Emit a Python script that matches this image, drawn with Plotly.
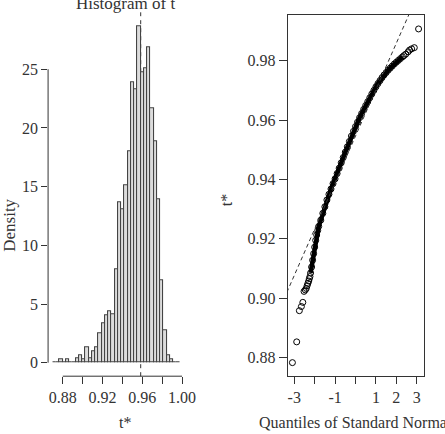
import plotly.graph_objects as go

W, H = 445, 434
FONT = "Liberation Serif"

# ---------------- data ----------------
t0 = 0.9584            # original statistic (dashed line in histogram)
bin_width = 0.003265   # histogram bin width
n_left = 27            # bins left of t0
density = [0, 0, 0.31, 0, 0.31, 0, 0, 0.37, 0.65, 0.31,
           1.28, 0.37, 1.0, 1.28, 2.5, 3.4, 4.0, 4.35, 4.15, 7.95,
           13.7, 13.1, 15.1, 18.0, 23.85, 23.3, 28.7, 24.7, 25.1, 26.9,
           21.7, 18.85, 13.9, 7.05, 2.8, 0.65, 0.31, 0, 0]

hist_xticks = [0.88, 0.90, 0.92, 0.94, 0.96, 0.98, 1.00]
hist_xlabels = ["0.88", "", "0.92", "", "0.96", "", "1.00"]
hist_yticks = [0, 5, 10, 15, 20, 25]

qq_quant = [-3.09, -2.88, -2.75, -2.65, -2.58, -2.52, -2.46, -2.41, -2.37, -2.33,
            -2.29, -2.26, -2.23, -2.20, -2.15, -2.10, -2.05, -2.00, -1.95, -1.90,
            -1.85, -1.80, -1.70, -1.60, -1.50, -1.40, -1.30, -1.20, -1.10, -1.00,
            -0.90, -0.80, -0.70, -0.60, -0.50, -0.40, -0.30, -0.20, -0.10, 0.00,
            0.10, 0.20, 0.30, 0.40, 0.50, 0.60, 0.70, 0.80, 0.90, 1.00,
            1.10, 1.20, 1.30, 1.40, 1.50, 1.60, 1.70, 1.80, 1.90, 2.00,
            2.10, 2.20, 2.30, 2.37, 2.46, 2.58, 2.65, 2.75, 2.88, 3.09]
qq_t = [0.8783, 0.8853, 0.8958, 0.8972, 0.8986, 0.9023, 0.9028, 0.9033, 0.9042, 0.9050,
        0.9058, 0.9066, 0.9073, 0.9085, 0.9105, 0.9128, 0.9150, 0.9172, 0.9195, 0.9213,
        0.9228, 0.9242, 0.9263, 0.9286, 0.9308, 0.9331, 0.9350, 0.9368, 0.9386, 0.9402,
        0.9420, 0.9438, 0.9456, 0.9474, 0.9492, 0.9510, 0.9528, 0.9546, 0.9562, 0.9578,
        0.9593, 0.9608, 0.9622, 0.9636, 0.9649, 0.9662, 0.9675, 0.9688, 0.9700, 0.9712,
        0.9723, 0.9733, 0.9743, 0.9752, 0.9760, 0.9768, 0.9775, 0.9782, 0.9789, 0.9795,
        0.9801, 0.9807, 0.9813, 0.9817, 0.9822, 0.9830, 0.9836, 0.9840, 0.9844, 0.9907]
t_mean = 0.9546
t_sd = 0.01565

qq_xticks = [-3, -2, -1, 0, 1, 2, 3]
qq_xlabels = ["-3", "", "-1", "", "1", "2", "3"]
qq_yticks = [0.88, 0.90, 0.92, 0.94, 0.96, 0.98]
qq_ylabels = ["0.88", "0.90", "0.92", "0.94", "0.96", "0.98"]

# ---------------- derived ----------------
breaks = [t0 + (k - n_left) * bin_width for k in range(len(density) + 1)]
centers = [(breaks[i] + breaks[i + 1]) / 2 for i in range(len(density))]


def px_x(p):
    return p / W


def px_y(p):
    return 1 - p / H


fig = go.Figure()

fig.add_trace(go.Bar(
    x=centers, y=density, width=bin_width,
    marker=dict(color="#dcdcdc", line=dict(color="#444", width=1.1)),
    xaxis="x", yaxis="y", showlegend=False))

band = [(q, t) for q, t in zip(qq_quant, qq_t) if -2.2 <= q <= 2.3]
fig.add_trace(go.Scatter(
    x=[b[0] for b in band], y=[b[1] for b in band], mode="lines",
    line=dict(color="black", width=4.5), xaxis="x2", yaxis="y2", showlegend=False))
fig.add_trace(go.Scatter(
    x=qq_quant, y=qq_t, mode="markers",
    marker=dict(symbol="circle-open", size=6, color="black", line=dict(width=1)),
    xaxis="x2", yaxis="y2", showlegend=False))

qx = [-3.5, 3.5]
fig.add_trace(go.Scatter(
    x=qx, y=[t_mean + t_sd * v for v in qx], mode="lines",
    line=dict(color="#333", width=1, dash="4px,3px"),
    xaxis="x2", yaxis="y2", showlegend=False))

tickfont = dict(family=FONT, size=16, color="#333")


def ann(text, x, y, size=16, angle=0):
    return dict(text=text, xref="paper", yref="paper", x=px_x(x), y=px_y(y),
                xanchor="center", yanchor="middle", showarrow=False,
                textangle=angle, font=dict(family=FONT, size=size, color="#333"))


fig.update_layout(
    width=W, height=H, autosize=False,
    margin=dict(l=0, r=0, t=0, b=0),
    paper_bgcolor="white", plot_bgcolor="white",
    bargap=0,
    xaxis=dict(domain=[px_x(49.3), px_x(189.5)], range=[0.86525, 1.00277],
               tickvals=hist_xticks, ticktext=hist_xlabels, ticks="outside",
               ticklen=7, tickcolor="#333", showline=False, showgrid=False,
               zeroline=False, tickfont=tickfont, anchor="y"),
    yaxis=dict(domain=[px_y(376.2), px_y(12.3)], range=[-1.148, 29.85],
               tickvals=hist_yticks, ticks="outside", ticklen=6, tickcolor="#333",
               showline=False, showgrid=False, zeroline=False, tickfont=tickfont,
               anchor="x"),
    xaxis2=dict(domain=[px_x(295), px_x(434.3)], range=[-3.32, 3.334],
                tickvals=qq_xticks, ticktext=qq_xlabels, ticks="outside",
                ticklen=7, tickcolor="#333", showline=True, linecolor="#333",
                linewidth=1, mirror=True, showgrid=False, zeroline=False,
                tickfont=tickfont, anchor="y2"),
    yaxis2=dict(domain=[px_y(375.7), px_y(15)], range=[0.8739, 0.9954],
                tickvals=qq_yticks, ticktext=qq_ylabels, ticks="outside",
                ticklen=8, tickcolor="#333", showline=True, linecolor="#333",
                linewidth=1, mirror=True, showgrid=False, zeroline=False,
                tickfont=tickfont, anchor="x2"),
    shapes=[
        dict(type="line", xref="x", yref="y domain", x0=t0, x1=t0, y0=0, y1=1,
             line=dict(color="#333", width=1, dash="4px,4px"), layer="below"),
        dict(type="line", xref="x", yref="y domain", x0=hist_xticks[0],
             x1=hist_xticks[-1], y0=0, y1=0, line=dict(color="#333", width=1)),
        dict(type="line", xref="x domain", yref="y", x0=0, x1=0,
             y0=hist_yticks[0], y1=hist_yticks[-1], line=dict(color="#333", width=1)),
    ],
    annotations=[
        ann("Histogram of t", 128.5, 4, size=17),
        ann("t*", 128.5, 422),
        ann("Density", 9, 225, size=17, angle=-90),
        ann("t*", 232, 200, angle=-90),
        ann("Quantiles of Standard Normal", 364.7, 422),
    ],
)

fig.write_html("out.html")
